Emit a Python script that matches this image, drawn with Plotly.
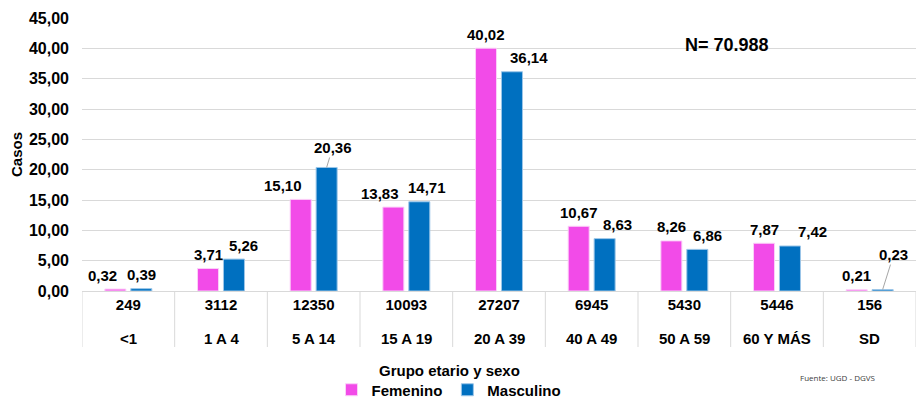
import plotly.graph_objects as go

ages = ["<1", "1 A 4", "5 A 14", "15 A 19", "20 A 39", "40 A 49", "50 A 59", "60 Y MÁS", "SD"]
counts = [249, 3112, 12350, 10093, 27207, 6945, 5430, 5446, 156]
femenino = [0.32, 3.71, 15.10, 13.83, 40.02, 10.67, 8.26, 7.87, 0.21]
masculino = [0.39, 5.26, 20.36, 14.71, 36.14, 8.63, 6.86, 7.42, 0.23]
y_ticks = [0, 5, 10, 15, 20, 25, 30, 35, 40, 45]

# label placement (style): horizontal pixel nudges like the original's auto-placed labels
fem_label_dx = [-13, 0, -18, -13, 0, 0, 0, 0, 0]
mas_label_dx = [0, 10, 0, 8, 17, 13, 10, 23, 0]
# Masculino labels drawn with a leader line (label offset in px)
leader = {2: (6, -20), 8: (11, -35)}

FONT = "Liberation Sans, Arial, sans-serif"
FEM = "#F24BE8"
MAS = "#0070C0"
GRID = "#D9D9D9"
BARGAP = 0.44
PLOT_H = 273


def fmt(v):
    return f"{v:.2f}".replace(".", ",")


def py(px_below_axis):
    return -px_below_axis / PLOT_H


fig = go.Figure()
fig.add_trace(go.Bar(
    x=ages, y=femenino, name="Femenino", marker=dict(color=FEM, line=dict(color="#FBD0F8", width=1)),
))
fig.add_trace(go.Bar(
    x=ages, y=masculino, name="Masculino", marker=dict(color=MAS, line=dict(color="#9CC6E8", width=1)),
))

slot = (1 - BARGAP) / 2
label_font = dict(family=FONT, size=15, color="#000000")
for i, v in enumerate(femenino):
    fig.add_annotation(x=i - slot / 2, y=v, xref="x", yref="y", text=fmt(v), showarrow=False,
                       xanchor="center", yanchor="middle", xshift=fem_label_dx[i], yshift=14,
                       font=label_font)
for i, v in enumerate(masculino):
    if i in leader:
        dx, dy = leader[i]
        fig.add_annotation(x=i + slot / 2, y=v, xref="x", yref="y", text=fmt(v),
                           showarrow=True, arrowhead=0, arrowwidth=1, arrowcolor="#A6A6A6",
                           ax=dx, ay=dy, standoff=0, font=label_font)
    else:
        fig.add_annotation(x=i + slot / 2, y=v, xref="x", yref="y", text=fmt(v), showarrow=False,
                           xanchor="center", yanchor="middle", xshift=mas_label_dx[i], yshift=14,
                           font=label_font)

# table-like dividers under the category axis
for i in range(len(ages) + 1):
    fig.add_shape(type="line", xref="x", yref="paper", x0=i - 0.5, x1=i - 0.5, y0=0, y1=py(56),
                  line=dict(color=GRID, width=1))

# second table row: age group labels
for a in ages:
    fig.add_annotation(x=a, y=py(47), xref="x", yref="paper", text=a.replace("<", "&lt;"),
                       showarrow=False, xanchor="center", yanchor="middle",
                       font=dict(family=FONT, size=15, color="#000000"))

fig.add_annotation(x=(727 - 82) / 834, y=(291 - 45) / PLOT_H, xref="paper", yref="paper", text="N= 70.988",
                   showarrow=False, font=dict(family=FONT, size=18, color="#000000"),
                   xanchor="center", yanchor="middle")
fig.add_annotation(x=(449 - 82) / 834, y=py(79), xref="paper", yref="paper", text="Grupo etario y sexo",
                   showarrow=False, font=dict(family=FONT, size=15, color="#000000"),
                   xanchor="center", yanchor="middle")
fig.add_annotation(x=(837 - 82) / 834, y=py(86), xref="paper", yref="paper", text="Fuente: UGD - DGVS",
                   showarrow=False,
                   font=dict(family="Open Sans, sans-serif", size=8, color="#404040", weight="normal"),
                   xanchor="center", yanchor="middle")

fig.update_layout(
    width=916, height=398,
    margin=dict(l=82, r=0, t=18, b=107),
    paper_bgcolor="white", plot_bgcolor="white",
    separators=",.",
    barmode="group", bargap=BARGAP, bargroupgap=0.19,
    font=dict(family=FONT, size=15, color="#000000", weight="bold"),
    xaxis=dict(
        type="category", tickmode="array", tickvals=ages, ticktext=[str(c) for c in counts],
        showline=True, linecolor=GRID, linewidth=1, ticks="", showgrid=False, automargin=False,
        tickfont=dict(family=FONT, size=15, color="#000000", weight="bold"),
        range=[-0.5, len(ages) - 0.5],
    ),
    yaxis=dict(
        range=[0, 45], tickvals=y_ticks, tickformat=".2f", showgrid=True, gridcolor=GRID, gridwidth=1,
        zeroline=False, showline=False, ticks="", ticklabelstandoff=12, automargin=False,
        tickfont=dict(family=FONT, size=16, color="#000000", weight="bold"),
        title=dict(text="Casos", font=dict(family=FONT, size=15, color="#000000", weight="bold"), standoff=2),
    ),
    legend=dict(orientation="h", x=(449 - 82) / 834, xanchor="center", xref="paper",
                y=(398 - 390) / 398, yanchor="middle", yref="container",
                font=dict(family=FONT, size=15, color="#000000", weight="bold"),
                bgcolor="rgba(0,0,0,0)", itemwidth=30, tracegroupgap=0),
    showlegend=True,
)

fig.write_html("out.html")
